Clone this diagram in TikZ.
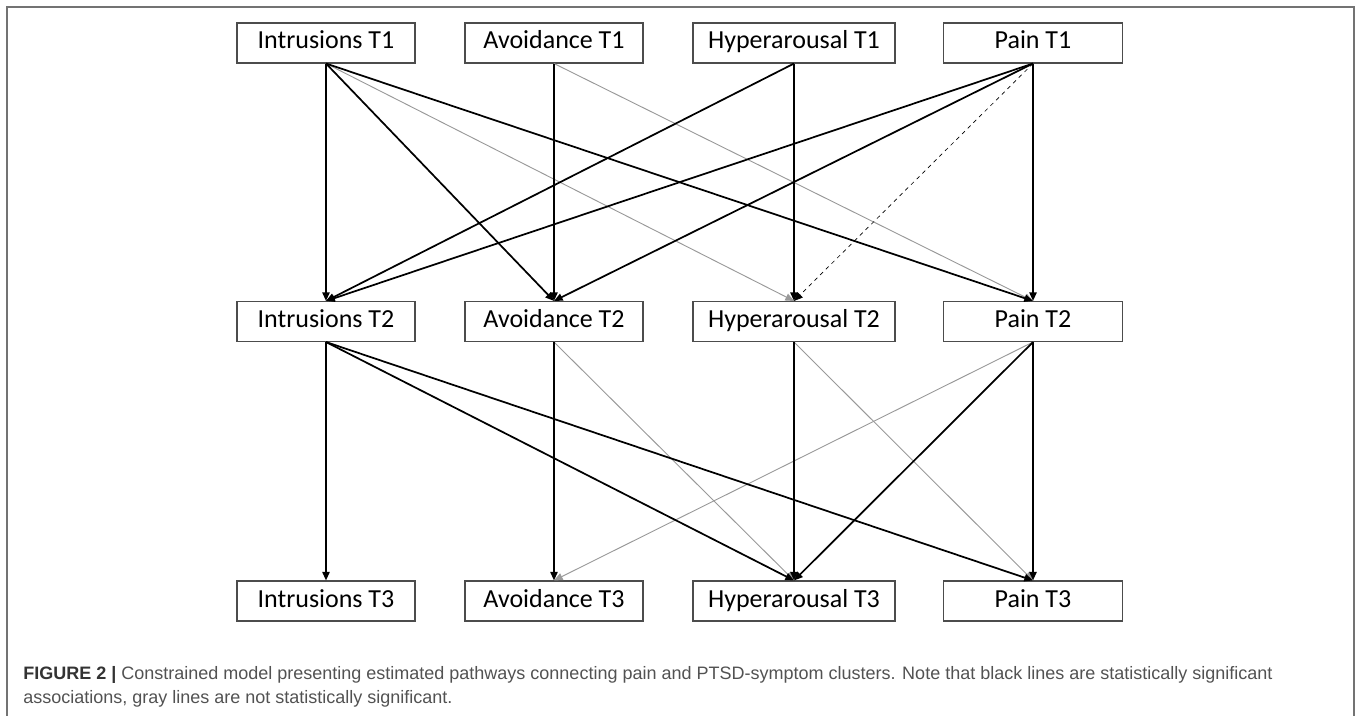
\documentclass[tikz,border=0pt]{standalone}
\usepackage{fontspec}
\setmainfont{Carlito}
\newfontfamily\capfont{Liberation Sans}
\usetikzlibrary{arrows.meta}

\begin{document}
\begin{tikzpicture}[x=0.75pt,y=-0.75pt]
\tikzset{box/.style = {draw=black!70,line width=0.8pt,minimum height=30pt,inner sep=0pt,text height=13pt,text depth=4pt,font=\fontsize{19.5}{23}\selectfont},
  sig/.style = {line width=1.3pt,-{Triangle[length=6.5pt,width=5.5pt]}},
  nonsig/.style = {draw=black!40,line width=0.7pt,-{Triangle[length=6.5pt,width=5.5pt]}},
  trend/.style = {dashed,line width=0.5pt,-{Triangle[length=6.5pt,width=5.5pt]}},
  captext/.style = {anchor=base west,inner sep=0pt,text=black!68,font=\capfont\fontsize{13.5}{16}\selectfont}}
\useasboundingbox (0,0) rectangle (1357,716);
% frame
\draw[black!55,line width=1.2pt] (7,716) -- (7,7) -- (1354,7) -- (1354,716);
% vertices
\foreach \t/\y in {1/43,2/321.5,3/601} {
  \foreach \x/\name/\w in {326/Intrusions/133.5,554/Avoidance/133.5,794/Hyperarousal/151.5,1033/Pain/134} {
    \node[box,minimum width=\w pt] (\name\t) at (\x,\y) {\name{} T\t};
  }
}
% edges, not significant
\foreach \i/\j in {Intrusions1/Hyperarousal2,Avoidance1/Pain2,Avoidance2/Hyperarousal3,Hyperarousal2/Pain3,Pain2/Avoidance3} {
    \draw[nonsig] (\i.south) -- (\j.north);
}
\draw[trend] (Pain1.south) -- (Hyperarousal2.north);
% edges, significant
\foreach \i/\j in {Intrusions1/Intrusions2,Intrusions1/Avoidance2,Intrusions1/Pain2,Avoidance1/Avoidance2,Hyperarousal1/Intrusions2,Hyperarousal1/Hyperarousal2,Pain1/Intrusions2,Pain1/Avoidance2,Pain1/Pain2,Intrusions2/Intrusions3,Intrusions2/Hyperarousal3,Intrusions2/Pain3,Avoidance2/Avoidance3,Hyperarousal2/Hyperarousal3,Pain2/Hyperarousal3,Pain2/Pain3} {
    \draw[sig] (\i.south) -- (\j.north);
}
% caption
\node[captext] (cap1) at (23,679) {\textcolor{black!80}{\textbf{FIGURE 2 |}} Constrained model presenting estimated pathways connecting pain and PTSD-symptom clusters. Note that black lines are statistically significant};
\node[captext] (cap2) at (23,703) {associations, gray lines are not statistically significant.};
\end{tikzpicture}
\end{document}
